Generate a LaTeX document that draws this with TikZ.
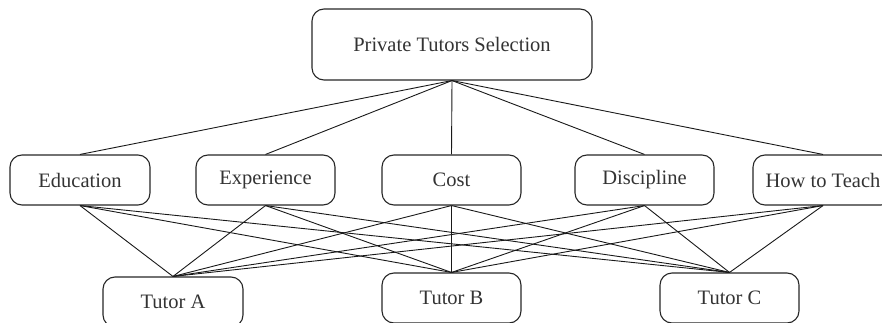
\documentclass[tikz,border=0pt]{standalone}
\usepackage{fontspec}
\setmainfont{Liberation Serif}
\begin{document}
\begin{tikzpicture}[x=1pt,y=-1pt,
  box/.style={draw=black!85, line width=1.1pt, rounded corners=12pt, minimum height=50pt, inner sep=0pt, text=black!80, font=\fontsize{20.5}{24}\selectfont},
  link/.style={draw=black!90, line width=0.9pt}]
\useasboundingbox (0,0) rectangle (882,323);
\clip (0,0) rectangle (882,323);
\node[box, minimum width=280pt, minimum height=71pt] (top) at (452,44.5) {Private Tutors Selection};
\node[box, minimum width=140pt] (edu) at (80,180) {Education};
\node[box, minimum width=139pt] (exp) at (265.5,180) {Experience};
\node[box, minimum width=139pt] (cost) at (451.5,180) {Cost};
\node[box, minimum width=139pt] (dis) at (644.5,180) {Discipline};
\node[box, minimum width=140pt] (how) at (823,180) {How to Teach};
\node[box, minimum width=140pt] (ta) at (173,302) {Tutor A};
\node[box, minimum width=139pt] (tb) at (451.5,298) {Tutor B};
\node[box, minimum width=139pt] (tc) at (729.5,298) {Tutor C};
\foreach \m in {edu,exp,cost,dis,how}{
  \draw[link] (top.south) -- (\m.north);
  \foreach \t in {ta,tb,tc}{
    \draw[link] (\m.south) -- (\t.north);
  }
}
\end{tikzpicture}
\end{document}
